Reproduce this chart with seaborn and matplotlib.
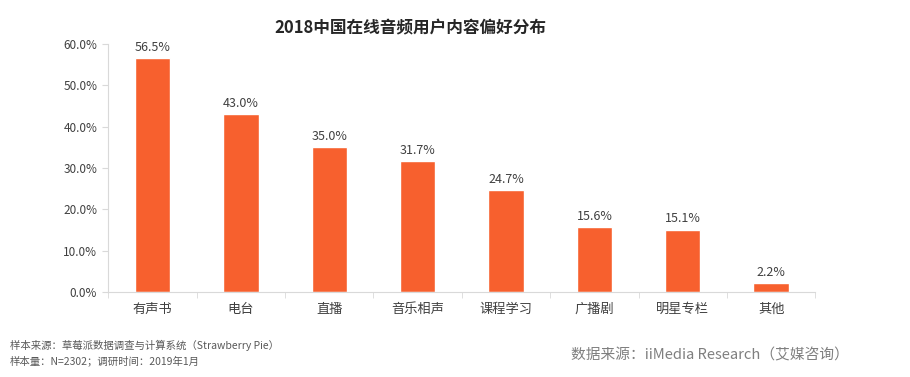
import numpy as np
import pandas as pd
import seaborn as sns
import matplotlib.pyplot as plt

categories = ["有声书", "电台", "直播", "音乐相声", "课程学习", "广播剧", "明星专栏", "其他"]
shares = [56.5, 43.0, 35.0, 31.7, 24.7, 15.6, 15.1, 2.2]

sns.set_style("white")
plt.rcParams["font.family"] = ["Noto Sans CJK SC", "DejaVu Sans"]

df = pd.DataFrame({"category": categories, "share": shares})

fig = plt.figure(figsize=(9.1, 3.77), dpi=100)
ax = fig.add_axes([0.119, 0.2255, 0.777, 0.658])

sns.barplot(data=df, x="category", y="share", color="#F7602E", saturation=1,
            width=0.4, ax=ax)

ax.set_ylim(0, 60)
ax.set_xlim(-0.5, len(categories) - 0.5)
ax.set_yticks(np.arange(0, 61, 10))
ax.set_yticklabels([f"{v:.1f}%" for v in np.arange(0, 61, 10)])
ax.set_xlabel("")
ax.set_ylabel("")

grey = "#d9d9d9"
for s in ["top", "right"]:
    ax.spines[s].set_visible(False)
for s in ["left", "bottom"]:
    ax.spines[s].set_color(grey)
    ax.spines[s].set_linewidth(0.8)

ax.tick_params(axis="y", which="major", length=4, color=grey, labelsize=8.5,
               labelcolor="#404040", pad=4, left=True)
ax.tick_params(axis="x", which="major", length=0, labelsize=9.5,
               labelcolor="#404040", pad=8)
ax.set_xticks(np.arange(-0.5, len(categories), 1), minor=True)
ax.tick_params(axis="x", which="minor", length=4, color=grey, bottom=True)

ax.bar_label(ax.containers[0], labels=[f"{v:.1f}%" for v in shares],
             padding=3, fontsize=9, color="#404040")

fig.text(0.451, 0.925, "2018中国在线音频用户内容偏好分布", ha="center", va="center",
         fontsize=12, fontweight="bold", color="#262626")
fig.text(0.011, 0.085, "样本来源：草莓派数据调查与计算系统（Strawberry Pie）",
         ha="left", va="center", fontsize=7.5, color="#595959")
fig.text(0.011, 0.042, "样本量：N=2302；调研时间：2019年1月",
         ha="left", va="center", fontsize=7.5, color="#595959")
fig.text(0.628, 0.058, "数据来源：iiMedia Research（艾媒咨询）",
         ha="left", va="center", fontsize=10.6, color="#7f7f7f")

fig.savefig("out.png", dpi=100)
